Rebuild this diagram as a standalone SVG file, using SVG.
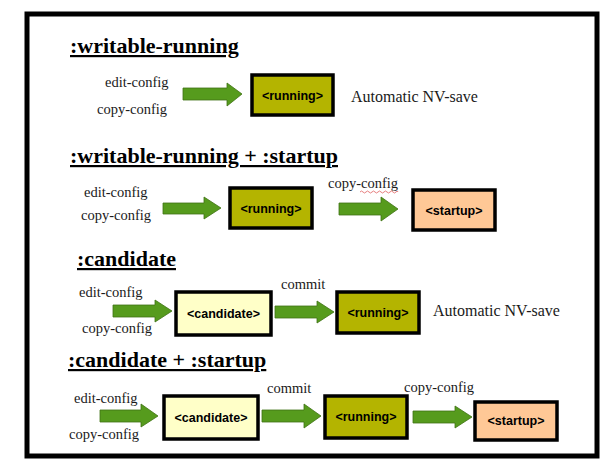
<svg xmlns="http://www.w3.org/2000/svg" width="616" height="472" viewBox="0 0 616 472">
<style>
.title{font-family:"Liberation Serif",serif;font-weight:bold;font-size:22px;fill:#000;text-decoration:underline}
.lbl{font-family:"Liberation Serif",serif;font-size:14.5px;fill:#1a1a1a}
.nv{font-family:"Liberation Serif",serif;font-size:16px;fill:#1a1a1a}
.box{stroke:#000;stroke-width:3.5}
.run{fill:#b4b400}
.cand{fill:#ffffc8}
.start{fill:#ffc896}
.bt{font-family:"Liberation Sans",sans-serif;font-weight:bold;font-size:12.5px;fill:#000;text-anchor:middle}
.arr{fill:#569b1d;stroke:#3f7214;stroke-width:0.8}
</style>
<rect width="616" height="472" fill="#fff"/>
<rect x="27" y="14" width="570" height="442" fill="none" stroke="#000" stroke-width="5"/>

<g id="titles">
<text class="title" x="70" y="53">:writable-running</text>
<text class="title" x="70" y="163">:writable-running + :startup</text>
<text class="title" x="77" y="266">:candidate</text>
<text class="title" x="68" y="367">:candidate + :startup</text>
</g>

<g id="labels">
<text class="lbl" x="105" y="87">edit-config</text>
<text class="lbl" x="97" y="114">copy-config</text>
<text class="nv" x="351" y="102">Automatic NV-save</text>
<text class="lbl" x="84" y="197">edit-config</text>
<text class="lbl" x="81" y="220">copy-config</text>
<text class="lbl" x="328" y="188">copy-config</text>
<path d="M360 192 q1.5 -2 3 0 t3 0 t3 0 t3 0 t3 0 t3 0 t3 0 t3 0 t3 0 t3 0 t3 0 t3 0 t2 0" fill="none" stroke="#e06060" stroke-width="0.8"/>
<text class="lbl" x="79" y="297">edit-config</text>
<text class="lbl" x="82" y="333">copy-config</text>
<text class="lbl" x="281" y="289">commit</text>
<text class="nv" x="433" y="316">Automatic NV-save</text>
<text class="lbl" x="74" y="403">edit-config</text>
<text class="lbl" x="69" y="439">copy-config</text>
<text class="lbl" x="267" y="393">commit</text>
<text class="lbl" x="404" y="392">copy-config</text>
</g>

<g id="connectors">
<path class="arr" d="M183 88 H227 V83 L242 94 L227 106 V100 H183 Z"/>
<path class="arr" d="M163 203 H204 V197 L221 208 L204 219 V214 H163 Z"/>
<path class="arr" d="M339 203 H381 V197 L398 209 L381 221 V215 H339 Z"/>
<path class="arr" d="M113 305 H155 V300 L172 311 L155 322 V317 H113 Z"/>
<path class="arr" d="M275 306 H317 V301 L334 312 L317 323 V318 H275 Z"/>
<path class="arr" d="M100 410 H141 V404 L158 416 L141 427 V422 H100 Z"/>
<path class="arr" d="M262 410 H304 V404 L321 416 L304 428 V422 H262 Z"/>
<path class="arr" d="M413 411 H455 V406 L472 417 L455 428 V423 H413 Z"/>
</g>

<g id="running1"><rect class="box run" x="252" y="75" width="81" height="40"/><text class="bt" x="292.5" y="99.5">&lt;running&gt;</text></g>
<g id="running2"><rect class="box run" x="230" y="188" width="82" height="40"/><text class="bt" x="271" y="212.5">&lt;running&gt;</text></g>
<g id="startup2"><rect class="box start" x="413" y="190" width="82" height="40"/><text class="bt" x="454" y="214.5">&lt;startup&gt;</text></g>
<g id="candidate3"><rect class="box cand" x="176" y="292" width="95" height="43"/><text class="bt" x="223.5" y="318">&lt;candidate&gt;</text></g>
<g id="running3"><rect class="box run" x="337" y="292" width="82" height="41"/><text class="bt" x="378" y="317">&lt;running&gt;</text></g>
<g id="candidate4"><rect class="box cand" x="164" y="396" width="94" height="43"/><text class="bt" x="211" y="422">&lt;candidate&gt;</text></g>
<g id="running4"><rect class="box run" x="325" y="396" width="82" height="42"/><text class="bt" x="366" y="421">&lt;running&gt;</text></g>
<g id="startup4"><rect class="box start" x="475" y="402" width="82" height="38"/><text class="bt" x="516" y="425">&lt;startup&gt;</text></g>
</svg>
